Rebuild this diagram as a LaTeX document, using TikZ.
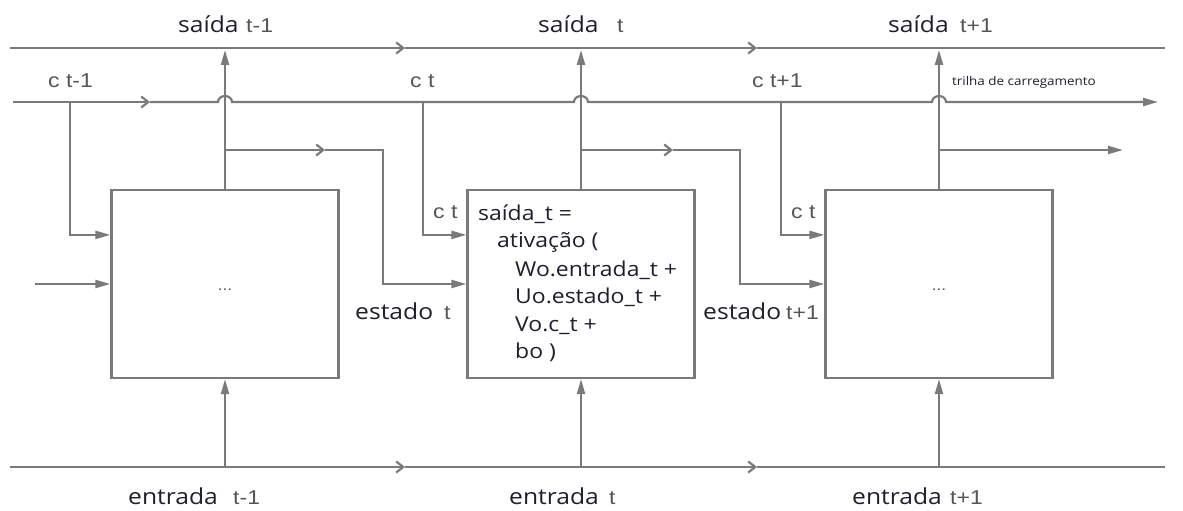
\documentclass[tikz,border=0pt]{standalone}
\usepackage{fontspec}
\setmainfont{Open Sans}[FakeStretch=1.12]
\newfontfamily\arialfont{Liberation Sans}[FakeStretch=1.15]
\usetikzlibrary{arrows.meta,calc}
\definecolor{wirec}{RGB}{122,122,122}
\definecolor{inkc}{RGB}{30,30,45}
\definecolor{subc}{RGB}{85,85,85}

\begin{document}
\begin{tikzpicture}[x=1pt,y=-1pt,
  wire/.style={draw=wirec,line width=2.2pt},
  tipf/.style={-{Triangle[length=15pt,width=8pt]}},
  barb/.style={-{Straight Barb[length=7pt,width=11pt]}},
  cell/.style={draw=wirec,line width=2.2pt,fill=white,minimum width=227pt,minimum height=188pt,inner sep=0pt},
  lbl/.style={anchor=base west,inner sep=0pt,text=inkc,font=\fontsize{22}{24}\selectfont},
  sub/.style={anchor=base west,inner sep=0pt,text=subc,font=\arialfont\fontsize{20}{22}\selectfont},
  code/.style={anchor=base west,inner sep=0pt,text=inkc,font=\fontsize{20.5}{22}\selectfont},
  tiny/.style={anchor=base west,inner sep=0pt,text=inkc,font=\fontsize{12}{14}\selectfont},
  dots/.style={inner sep=0pt,text=subc,font=\arialfont\fontsize{15}{16}\selectfont}
]
\useasboundingbox (0,0) rectangle (1183,511);

% cells
\node[cell] (b1) at (225,284) {};
\node[cell] (b2) at (581,284) {};
\node[cell] (b3) at (939,284) {};
\node[dots] (d1) at (225,290) {...};
\node[dots] (d3) at (939,290) {...};

% output rail
\coordinate (s0) at (10,48);
\coordinate (s1) at (405,48);
\coordinate (s2) at (757,48);
\coordinate (s3) at (1165,48);
\draw[wire,barb] (s0) -- (s1);
\draw[wire,barb] (s1) -- (s2);
\draw[wire] (s2) -- (s3);

% input rail
\coordinate (e0) at (10,467);
\coordinate (e1) at (405,467);
\coordinate (e2) at (757,467);
\coordinate (e3) at (1165,467);
\draw[wire,barb] (e0) -- (e1);
\draw[wire,barb] (e1) -- (e2);
\draw[wire] (e2) -- (e3);

% outputs and inputs of each cell
\coordinate (o1) at (225,50);
\coordinate (o2) at (581,50);
\coordinate (o3) at (939,50);
\draw[wire,tipf] (b1.north) -- (o1);
\draw[wire,tipf] (b2.north) -- (o2);
\draw[wire,tipf] (b3.north) -- (o3);
\coordinate (i1) at (225,467);
\coordinate (i2) at (581,467);
\coordinate (i3) at (939,467);
\draw[wire,tipf] (i1) -- (b1.south);
\draw[wire,tipf] (i2) -- (b2.south);
\draw[wire,tipf] (i3) -- (b3.south);

% carry track with hops over the outputs
\coordinate (c0) at (13,102);
\coordinate (c1) at (150,102);
\coordinate (h1) at (218,102);
\coordinate (h2) at (574,102);
\coordinate (h3) at (932,102);
\coordinate (c9) at (1158,102);
\draw[wire,barb] (c0) -- (c1);
\draw[wire,tipf] (c1) -- (h1) arc[start angle=180,end angle=360,x radius=7,y radius=6]
  -- (h2) arc[start angle=180,end angle=360,x radius=7,y radius=6]
  -- (h3) arc[start angle=180,end angle=360,x radius=7,y radius=6] -- (c9);

% carry taps into the cells
\coordinate (k1) at (70,102);
\coordinate (k2) at (423,102);
\coordinate (k3) at (781,102);
\draw[wire,tipf] (k1) |- ($(b1.north west)+(0,46)$);
\draw[wire,tipf] (k2) |- ($(b2.north west)+(0,46)$);
\draw[wire,tipf] (k3) |- ($(b3.north west)+(0,46)$);

% extra input of the first cell
\coordinate (in0) at (35,284);
\draw[wire,tipf] (in0) -- (b1.west);

% state passed to the next cell
\coordinate (st1) at (225,150);
\coordinate (sb1) at (325,150);
\coordinate (sc1) at (383,150);
\draw[wire,barb] (st1) -- (sb1);
\draw[wire,tipf] (sb1) -- (sc1) |- (b2.west);
\coordinate (st2) at (581,150);
\coordinate (sb2) at (673,150);
\coordinate (sc2) at (740,150);
\draw[wire,barb] (st2) -- (sb2);
\draw[wire,tipf] (sb2) -- (sc2) |- (b3.west);
\coordinate (st3) at (939,150);
\coordinate (se3) at (1123,150);
\draw[wire,tipf] (st3) -- (se3);

% labels
\node[lbl] (ls1) at (178,33) {saída};
\node[sub] (ts1) at (246,33) {t-1};
\node[lbl] (ls2) at (538,33) {saída};
\node[sub] (ts2) at (617,33) {t};
\node[lbl] (ls3) at (888,33) {saída};
\node[sub] (ts3) at (960,33) {t+1};

\node[sub] (lc1) at (48,87) {c t-1};
\node[sub] (lc2) at (410,87) {c t};
\node[sub] (lc3) at (752,87) {c t+1};
\node[tiny] (trk) at (952,85) {trilha de carregamento};

\node[sub] (lk2) at (433,218) {c t};
\node[sub] (lk3) at (791,218) {c t};

\node[lbl] (le2) at (355,319) {estado};
\node[sub] (te2) at (444,319) {t};
\node[lbl] (le3) at (703,319) {estado};
\node[sub] (te3) at (786,319) {t+1};

\node[lbl] (ln1) at (128,504) {entrada};
\node[sub] (tn1) at (233,504) {t-1};
\node[lbl] (ln2) at (509,504) {entrada};
\node[sub] (tn2) at (609,504) {t};
\node[lbl] (ln3) at (852,504) {entrada};
\node[sub] (tn3) at (950,504) {t+1};

% formula of the middle cell
\node[code] (f1) at (478,220) {saída\_t =};
\node[code] (f2) at (497,247) {ativação (};
\node[code] (f3) at (515,276) {Wo.entrada\_t +};
\node[code] (f4) at (515,303) {Uo.estado\_t +};
\node[code] (f5) at (515,331) {Vo.c\_t +};
\node[code] (f6) at (515,358) {bo )};
\end{tikzpicture}
\end{document}
